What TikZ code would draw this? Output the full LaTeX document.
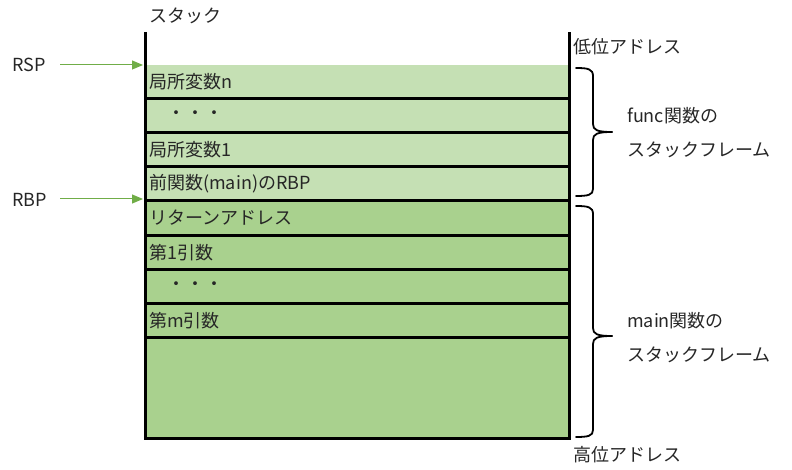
\documentclass[tikz,border=0pt]{standalone}
\usepackage{fontspec}
\setmainfont{Noto Sans CJK JP}
\usetikzlibrary{arrows.meta}
\definecolor{lightg}{HTML}{C5E0B4}
\definecolor{darkg}{HTML}{A9D18E}
\definecolor{arrg}{HTML}{70AD47}
\definecolor{txt}{HTML}{262626}
\begin{document}
\begin{tikzpicture}[x=1pt,y=-1pt,
  lbl/.style={anchor=west,inner sep=0pt,font=\fontsize{18}{20}\selectfont,text=txt},
  sep/.style={line width=2.2pt},
  wall/.style={line width=3pt},
  ptr/.style={draw=arrg,line width=1pt,-{Triangle[length=11pt,width=9pt]}},
  brace/.style={line width=1.8pt,line cap=round}]
\useasboundingbox (0,0) rectangle (792,470);
% fills
\fill[lightg] (145,65) rectangle (569,201);
\fill[darkg] (145,201) rectangle (569,438);
% separators
\foreach \yy in {98.5,132.5,166.5,235.5,269.5,303.5,337.5}
  \draw[sep] (145,\yy) -- (569,\yy);
\draw[wall] (145,201) -- (569,201);
% walls
\draw[wall] (145,32) -- (145,438) -- (569,438) -- (569,32);
% row labels
\node[lbl] (r1) at (149,81.5) {局所変数n};
\node[lbl] (r2) at (167,115.5) {・\hspace{1pt}・\hspace{1pt}・};
\node[lbl] (r3) at (149,149.5) {局所変数1};
\node[lbl] (r4) at (149,184) {前関数(main)のRBP};
\node[lbl] (r5) at (149,218) {リターンアドレス};
\node[lbl] (r6) at (149,252.5) {第1引数};
\node[lbl] (r7) at (167,286.5) {・\hspace{1pt}・\hspace{1pt}・};
\node[lbl] (r8) at (149,320.5) {第m引数};
% titles
\node[lbl] (stack) at (149,16) {スタック};
\node[lbl] (low) at (573,47) {低位アドレス};
\node[lbl] (high) at (573,455) {高位アドレス};
% pointers
\node[lbl] (rsp) at (12,65) {RSP};
\node[lbl] (rbp) at (12,200) {RBP};
\coordinate (rspT) at (143,65);
\coordinate (rbpT) at (143,199);
\draw[ptr] (60,65) -- (rspT);
\draw[ptr] (60,199) -- (rbpT);
% braces
\draw[brace] (576,68) .. controls (588,68) and (593,69) .. (593,76) -- (593,124) .. controls (593,130) and (597,132) .. (612,132);
\draw[brace] (612,132) .. controls (597,132) and (593,134) .. (593,140) -- (593,189) .. controls (593,195) and (588,196) .. (576,196);
\draw[brace] (576,206) .. controls (588,206) and (593,207) .. (593,214) -- (593,328) .. controls (593,334) and (597,336) .. (612,336);
\draw[brace] (612,336) .. controls (597,336) and (593,338) .. (593,344) -- (593,430) .. controls (593,436) and (588,437) .. (576,437);
% frame labels
\node[lbl] (f1) at (627,116) {func関数の};
\node[lbl] (f2) at (627,150) {スタックフレーム};
\node[lbl] (m1) at (627,321) {main関数の};
\node[lbl] (m2) at (627,355) {スタックフレーム};
\end{tikzpicture}
\end{document}
